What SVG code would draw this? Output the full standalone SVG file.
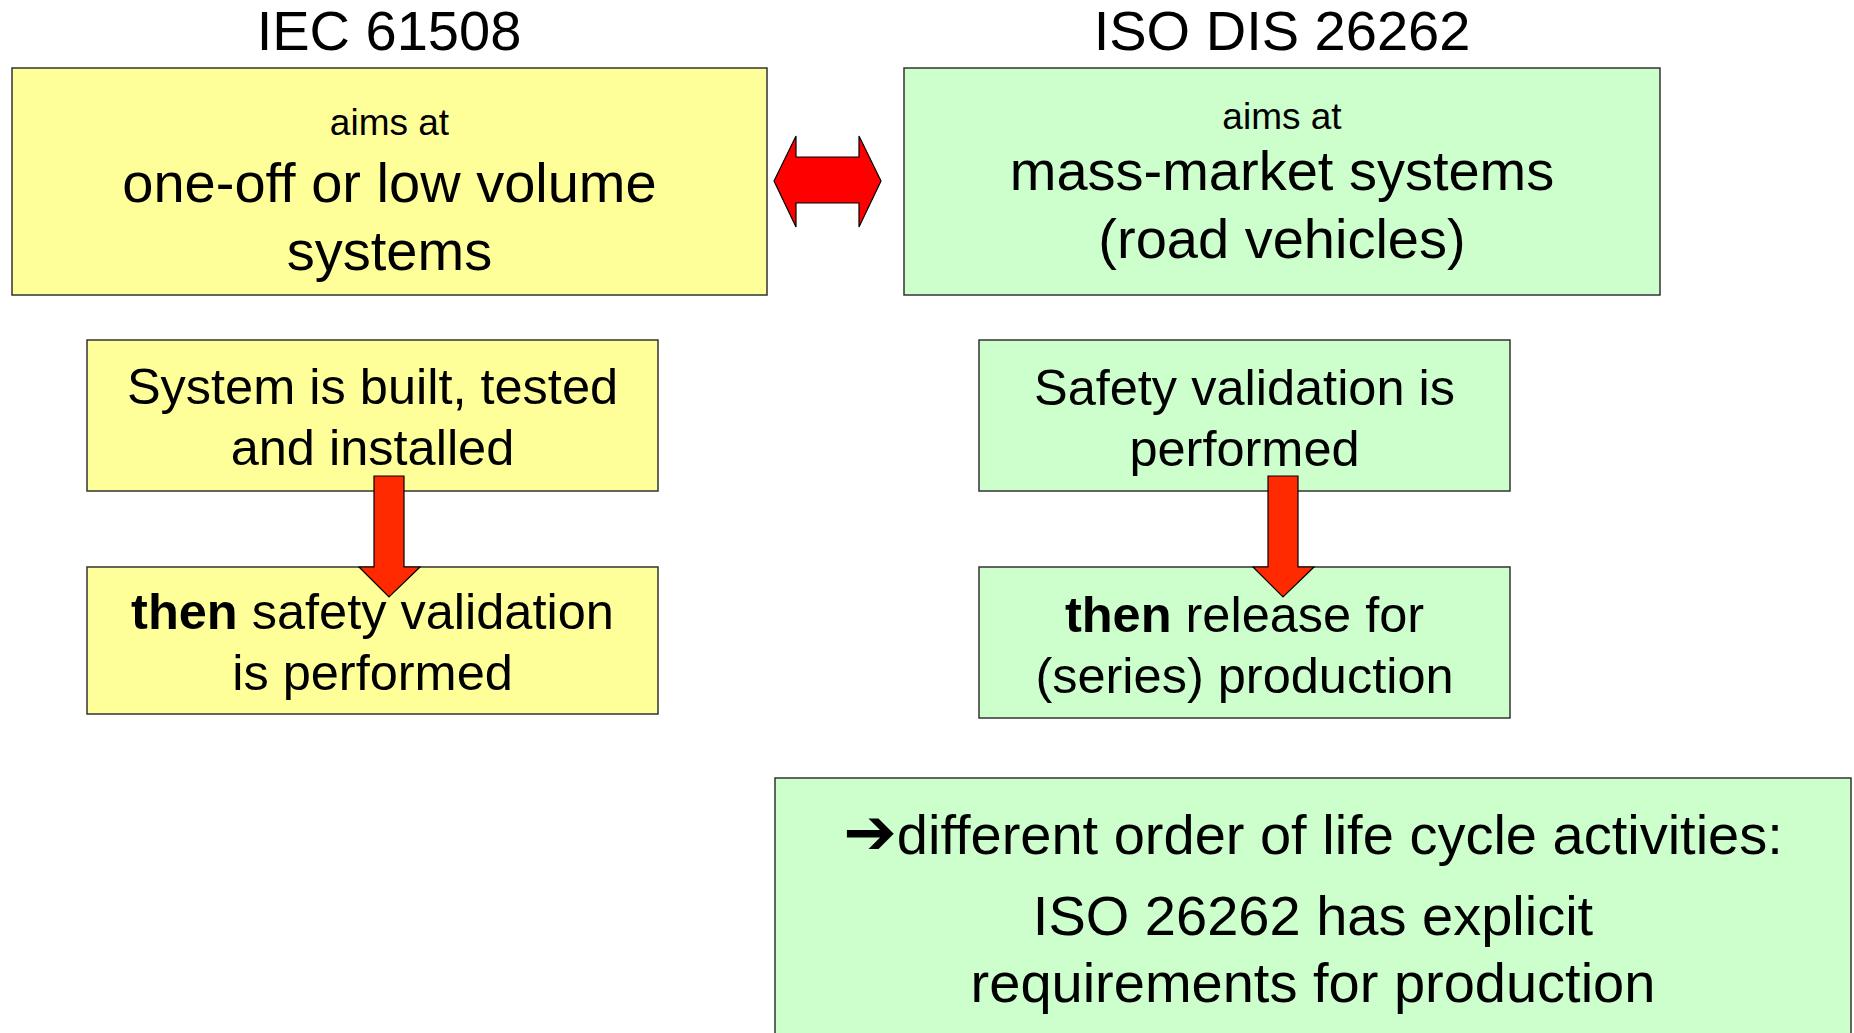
<svg xmlns="http://www.w3.org/2000/svg" width="1854" height="1033" viewBox="0 0 1854 1033">
<style>
text{font-family:"Liberation Sans",Arial,sans-serif;fill:#000;text-anchor:middle}
.y{fill:#FFFF99;stroke:#333;stroke-width:1.5}
.g{fill:#CCFFCC;stroke:#333;stroke-width:1.5}
.t{font-size:56px}
.s{font-size:37px}
.m{font-size:50.5px}
.b{font-weight:bold}
.ar{fill:#FF2A00;stroke:#000;stroke-width:1.2}
.ar2{fill:#FF0000;stroke:#000;stroke-width:1.2}
</style>
<rect width="1854" height="1033" fill="#fff"/>
<g id="title-iec"><text class="t" x="389" y="50">IEC 61508</text></g>
<g id="title-iso"><text class="t" x="1282" y="50">ISO DIS 26262</text></g>
<g id="iec-aim">
<rect class="y" x="12" y="68" width="755" height="227"/>
<text class="s" x="389.5" y="135">aims at</text>
<text class="t" x="389.5" y="202">one-off or low volume</text>
<text class="t" x="389.5" y="270">systems</text>
</g>
<g id="iso-aim">
<rect class="g" x="904" y="68" width="756" height="227"/>
<text class="s" x="1282" y="129">aims at</text>
<text class="t" x="1282" y="190">mass-market systems</text>
<text class="t" x="1282" y="258">(road vehicles)</text>
</g>
<g id="iec-built">
<rect class="y" x="87" y="340" width="571" height="151"/>
<text class="m" x="372.5" y="404">System is built, tested</text>
<text class="m" x="372.5" y="465">and installed</text>
</g>
<g id="iec-then">
<rect class="y" x="87" y="567" width="571" height="147"/>
<text class="m" x="372.5" y="629"><tspan class="b">then</tspan> safety validation</text>
<text class="m" x="372.5" y="690">is performed</text>
</g>
<g id="iso-valid">
<rect class="g" x="979" y="340" width="531" height="151"/>
<text class="m" x="1244.5" y="405">Safety validation is</text>
<text class="m" x="1244.5" y="466">performed</text>
</g>
<g id="iso-then">
<rect class="g" x="979" y="567" width="531" height="151"/>
<text class="m" x="1244.5" y="632"><tspan class="b">then</tspan> release for</text>
<text class="m" x="1244.5" y="693">(series) production</text>
</g>
<g id="conclusion">
<rect class="g" x="775" y="778" width="1076" height="270"/>
<text class="t" x="1313" y="854"><tspan font-family="DejaVu Sans" font-weight="bold" font-size="64">➔</tspan>different order of life cycle activities:</text>
<text class="t" x="1313" y="935">ISO 26262 has explicit</text>
<text class="t" x="1313" y="1002">requirements for production</text>
</g>
<g id="connectors">
<polygon class="ar2" points="774,181 796,136 796,157 859,157 859,136 881,181 859,227 859,203 796,203 796,227"/>
<polygon class="ar" points="374,476 404,476 404,567 420,567 389,597 359,567 374,567"/>
<polygon class="ar" points="1268,476 1298,476 1298,567 1314,567 1283,597 1253,567 1268,567"/>
</g>
</svg>
